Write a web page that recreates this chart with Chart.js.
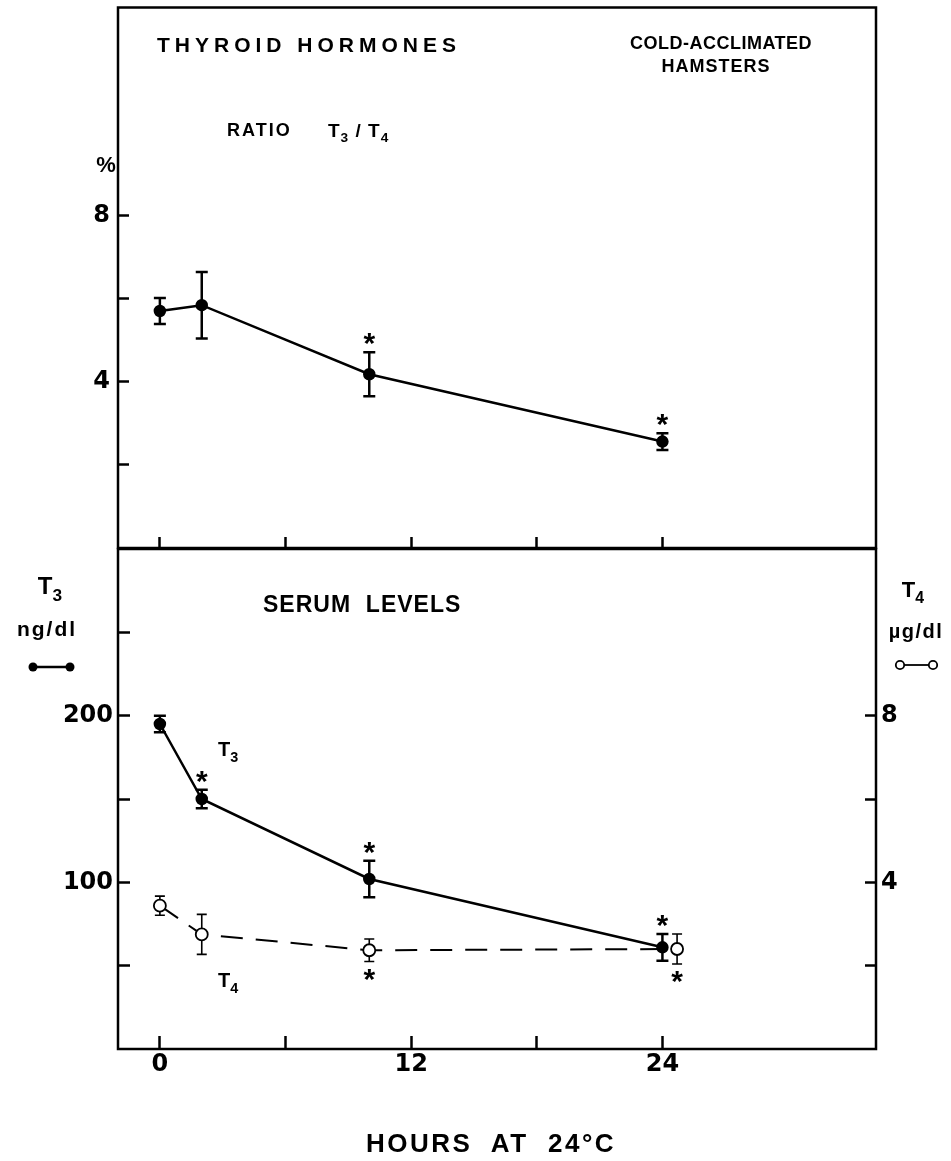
<!DOCTYPE html>
<html>
<head>
<meta charset="utf-8">
<script src="https://cdn.jsdelivr.net/npm/chart.js@4.4.0/dist/chart.umd.min.js"></script>
<style>
  body { margin: 0; background: #fff; }
  #wrap { position: relative; width: 951px; height: 1161px; overflow: hidden;
          font-family: "Liberation Sans", Arial, sans-serif; font-weight: bold; color: #000; }
  canvas { position: absolute; left: 0; }
  #topChart { top: 0; }
  #botChart { top: 540px; }
  .lbl { position: absolute; line-height: 1; white-space: nowrap; transform: translateY(-50%); }
  .c { transform: translate(-50%, -50%); }
  .lbl sub { font-size: 72%; vertical-align: -0.4em; line-height: 0; }
</style>
</head>
<body>
<div id="wrap">
  <canvas id="topChart" width="951" height="560" style="width:951px;height:560px"></canvas>
  <canvas id="botChart" width="951" height="621" style="width:951px;height:621px"></canvas>

  <div class="lbl" style="left:157px;top:44px;font-size:21px;letter-spacing:5px">THYROID HORMONES</div>
  <div class="lbl" style="left:227px;top:130px;font-size:18px;letter-spacing:2px">RATIO</div>
  <div class="lbl" style="left:328px;top:130px;font-size:19px;letter-spacing:1px">T<sub>3</sub> / T<sub>4</sub></div>
  <div class="lbl c" style="left:721px;top:43px;font-size:18px;letter-spacing:0.5px">COLD-ACCLIMATED</div>
  <div class="lbl c" style="left:716px;top:66px;font-size:18px;letter-spacing:1px">HAMSTERS</div>
  <div class="lbl c" style="left:106px;top:165px;font-size:22px">%</div>

  <div class="lbl c" style="left:50px;top:586px;font-size:24px">T<sub>3</sub></div>
  <div class="lbl c" style="left:47px;top:628px;font-size:21px;letter-spacing:2px">ng/dl</div>
  <div class="lbl" style="left:263px;top:604px;font-size:23px;letter-spacing:1px">SERUM&nbsp; LEVELS</div>
  <div class="lbl c" style="left:913px;top:590px;font-size:22px">T<sub>4</sub></div>
  <div class="lbl c" style="left:916px;top:631px;font-size:20px;letter-spacing:1.5px">µg/dl</div>
  <div class="lbl" style="left:218px;top:749px;font-size:20px">T<sub>3</sub></div>
  <div class="lbl" style="left:218px;top:980px;font-size:20px">T<sub>4</sub></div>

  <div class="lbl c" style="left:491px;top:1143px;font-size:26px;letter-spacing:2.5px">HOURS&nbsp; AT&nbsp; 24°C</div>
</div>

<script>
// ---- data ----
var ratioHours = [0, 2, 10, 24];
var ratioPct = [5.70, 5.84, 4.18, 2.56];
var ratioErr = [0.31, 0.80, 0.53, 0.20];
var ratioStar = [null, null, 'up', 'up'];

var t3Hours = [0, 2, 10, 24];
var t3Serum = [195, 150, 102, 61];
var t3Err = [5, 5.6, 11, 8];
var t3Star = [null, 'up', 'up', 'up'];

var t4Hours = [0, 2, 10, 24.7];
var t4Serum = [3.44, 2.75, 2.37, 2.40];
var t4Err = [0.23, 0.48, 0.27, 0.36];
var t4Star = [null, null, 'down', 'down'];

var xTicks = [0, 6, 12, 18, 24];
var xLabels = [0, 12, 24];
var ratioTicks = [2, 4, 6, 8];
var ratioLabels = [4, 8];
var t3Ticks = [50, 100, 150, 200, 250];
var t3Labels = [100, 200];
var t4Ticks = [2, 4, 6, 8];
var t4Labels = [4, 8];

function points(xs, ys) {
    return xs.map(function (x, i) { return { x: x, y: ys[i] }; });
}

function setTicks(list) {
    return function (scale) {
        scale.ticks = list.map(function (v) { return { value: v }; });
    };
}

function labelIf(list) {
    return function (v) { return list.indexOf(v) >= 0 ? String(v) : ''; };
}

function fixWidth(w) {
    return function (s) { s.width = w; s.paddingTop = 0; s.paddingBottom = 0; };
}

function fixHeight(h) {
    return function (s) { s.height = h; s.paddingLeft = 0; s.paddingRight = 0; };
}

var tickFont = { family: 'DejaVu Sans', size: 24, weight: 'bold' };

// error bars + significance stars
var errorBars = {
    id: 'errorBars',
    beforeDatasetsDraw: function (chart) {
        var ctx = chart.ctx;
        chart.data.datasets.forEach(function (ds) {
            if (!ds.errors) return;
            var xs = chart.scales.x, ys = chart.scales[ds.yAxisID];
            ctx.save();
            ctx.strokeStyle = '#000';
            ctx.lineWidth = ds.errWidth;
            ds.data.forEach(function (p, j) {
                var px = xs.getPixelForValue(p.x);
                var top = ys.getPixelForValue(p.y + ds.errors[j]);
                var bot = ys.getPixelForValue(p.y - ds.errors[j]);
                ctx.beginPath();
                ctx.moveTo(px, top); ctx.lineTo(px, bot);
                ctx.moveTo(px - ds.capHalf, top); ctx.lineTo(px + ds.capHalf, top);
                ctx.moveTo(px - ds.capHalf, bot); ctx.lineTo(px + ds.capHalf, bot);
                ctx.stroke();
            });
            ctx.restore();
        });
    },
    afterDatasetsDraw: function (chart) {
        var ctx = chart.ctx;
        ctx.save();
        ctx.fillStyle = '#000';
        ctx.font = 'bold 30px "Liberation Sans"';
        ctx.textAlign = 'center';
        ctx.textBaseline = 'alphabetic';
        var m = ctx.measureText('*');
        var shift = (m.actualBoundingBoxAscent - m.actualBoundingBoxDescent) / 2;
        chart.data.datasets.forEach(function (ds) {
            if (!ds.stars) return;
            var xs = chart.scales.x, ys = chart.scales[ds.yAxisID];
            ds.data.forEach(function (p, j) {
                var s = ds.stars[j];
                if (!s) return;
                var px = xs.getPixelForValue(p.x);
                var cy = s === 'up'
                    ? ys.getPixelForValue(p.y + ds.errors[j]) - 13
                    : ys.getPixelForValue(p.y - ds.errors[j]) + 13;
                ctx.fillText('*', px, cy + shift);
            });
        });
        ctx.restore();
    }
};

var frame = {
    id: 'frame',
    afterDraw: function (chart) {
        var a = chart.chartArea, ctx = chart.ctx;
        ctx.save();
        ctx.strokeStyle = '#000';
        ctx.lineWidth = 2.5;
        ctx.strokeRect(a.left, a.top, a.right - a.left, a.bottom - a.top);
        ctx.restore();
    }
};

// small keys next to the unit labels: filled = T3, open = T4
var unitKeys = {
    id: 'unitKeys',
    afterDraw: function (chart) {
        var ctx = chart.ctx;
        ctx.save();
        ctx.strokeStyle = '#000';
        ctx.lineWidth = 2.5;
        ctx.beginPath(); ctx.moveTo(33, 127); ctx.lineTo(70, 127); ctx.stroke();
        ctx.fillStyle = '#000';
        [33, 70].forEach(function (x) {
            ctx.beginPath(); ctx.arc(x, 127, 4.5, 0, Math.PI * 2); ctx.fill();
        });
        ctx.lineWidth = 1.8;
        ctx.beginPath(); ctx.moveTo(904, 125); ctx.lineTo(929, 125); ctx.stroke();
        ctx.fillStyle = '#fff';
        [900, 933].forEach(function (x) {
            ctx.beginPath(); ctx.arc(x, 125, 4.2, 0, Math.PI * 2); ctx.fill(); ctx.stroke();
        });
        ctx.restore();
    }
};

function xScale(showLabels, height, tl, pad) {
    return {
        type: 'linear', min: -2, max: 34.2,
        afterBuildTicks: setTicks(xTicks),
        afterFit: fixHeight(height),
        border: { display: false },
        grid: { drawOnChartArea: false, tickLength: tl, tickWidth: 2.5, tickColor: '#000' },
        ticks: { display: showLabels, callback: labelIf(xLabels), font: tickFont, color: '#000', padding: pad, maxRotation: 0 }
    };
}

new Chart(document.getElementById('topChart'), {
    type: 'line',
    data: {
        datasets: [{
            label: 'T3/T4',
            data: points(ratioHours, ratioPct),
            yAxisID: 'y',
            borderColor: '#000', borderWidth: 2.5,
            pointRadius: 5, pointBackgroundColor: '#000', pointBorderColor: '#000',
            errors: ratioErr, stars: ratioStar, errWidth: 2.5, capHalf: 6
        }]
    },
    options: {
        responsive: false, animation: false, devicePixelRatio: 1,
        layout: { padding: { top: 6, right: 75, left: 0, bottom: 0 } },
        plugins: { legend: { display: false }, tooltip: { enabled: false } },
        scales: {
            x: xScale(false, 12, -11, 0),
            y: {
                position: 'left', min: 0, max: 13,
                afterBuildTicks: setTicks(ratioTicks),
                afterFit: fixWidth(118),
                border: { display: false },
                grid: { drawOnChartArea: false, tickLength: -11, tickWidth: 2.5, tickColor: '#000' },
                ticks: { callback: labelIf(ratioLabels), font: tickFont, color: '#000', padding: 19 }
            }
        }
    },
    plugins: [errorBars, frame]
});

new Chart(document.getElementById('botChart'), {
    type: 'line',
    data: {
        datasets: [{
            label: 'T3',
            data: points(t3Hours, t3Serum),
            yAxisID: 'y',
            borderColor: '#000', borderWidth: 2.5,
            pointRadius: 5, pointBackgroundColor: '#000', pointBorderColor: '#000',
            errors: t3Err, stars: t3Star, errWidth: 2.5, capHalf: 6
        }, {
            label: 'T4',
            data: points(t4Hours, t4Serum),
            yAxisID: 'y2',
            borderColor: '#000', borderWidth: 2, borderDash: [22, 13],
            pointRadius: 6, pointBackgroundColor: '#fff', pointBorderColor: '#000', pointBorderWidth: 1.8,
            errors: t4Err, stars: t4Star, errWidth: 1.6, capHalf: 5
        }]
    },
    options: {
        responsive: false, animation: false, devicePixelRatio: 1,
        layout: { padding: { top: 9, right: 0, left: 0, bottom: 0 } },
        plugins: { legend: { display: false }, tooltip: { enabled: false } },
        scales: {
            x: xScale(true, 112, -13, 14),
            y: {
                position: 'left', min: 0, max: 300,
                afterBuildTicks: setTicks(t3Ticks),
                afterFit: fixWidth(118),
                border: { display: false },
                grid: { drawOnChartArea: false, tickLength: -12, tickWidth: 2.5, tickColor: '#000' },
                ticks: { callback: labelIf(t3Labels), font: tickFont, color: '#000', padding: 17 }
            },
            y2: {
                position: 'right', min: 0, max: 12,
                afterBuildTicks: setTicks(t4Ticks),
                afterFit: fixWidth(75),
                border: { display: false },
                grid: { drawOnChartArea: false, tickLength: -11, tickWidth: 2.5, tickColor: '#000' },
                ticks: { callback: labelIf(t4Labels), font: tickFont, color: '#000', padding: 16 }
            }
        }
    },
    plugins: [errorBars, frame, unitKeys]
});
</script>
</body>
</html>
